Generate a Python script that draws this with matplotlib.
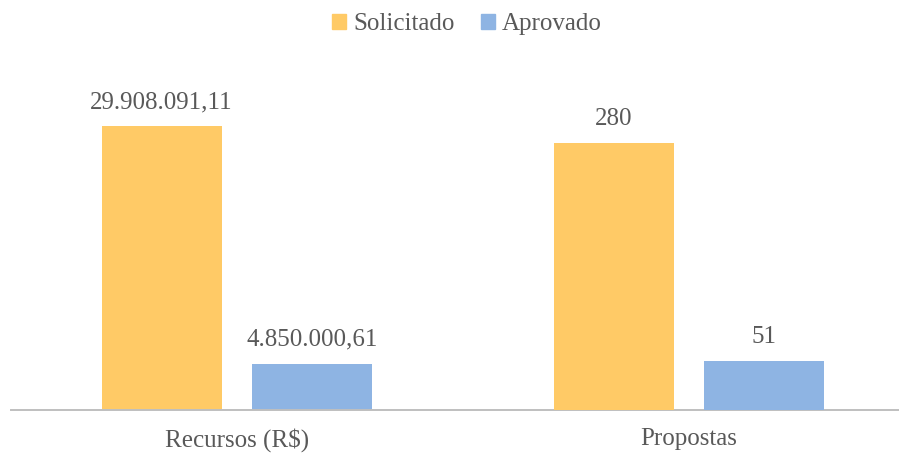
import matplotlib
matplotlib.use("Agg")
import matplotlib.pyplot as plt
from matplotlib.patches import Patch

categories = ["Recursos (R$)", "Propostas"]
series_names = ["Solicitado", "Aprovado"]
solicitado = [29908091.11, 280]
aprovado = [4850000.61, 51]
value_labels_solicitado = ["29.908.091,11", "280"]
value_labels_aprovado = ["4.850.000,61", "51"]

colors = ["#FFCA66", "#8EB4E3"]
text_color = "#595959"
FONT = ["Liberation Serif", "DejaVu Serif"]
plt.rcParams["font.family"] = FONT

W, H = 899, 454
fig = plt.figure(figsize=(W / 100, H / 100), dpi=100)
ax_left_px, ax_bottom_px, ax_w_px, ax_h_px = 11, 410, 904, 350
ax1 = fig.add_axes([ax_left_px / W, (H - ax_bottom_px) / H, ax_w_px / W, ax_h_px / H])
ax2 = ax1.twinx()

bw = 0.2655
off = 0.167
axes_for = [ax1, ax2]
ylims = [36.86e6, 367]
for i, cat in enumerate(categories):
    ax = axes_for[i]
    b1 = ax.bar(i - off, solicitado[i], width=bw, color=colors[0], zorder=2)
    b2 = ax.bar(i + off, aprovado[i], width=bw, color=colors[1], zorder=2)
    for bar, lab in ((b1[0], value_labels_solicitado[i]), (b2[0], value_labels_aprovado[i])):
        ax.annotate(lab, (bar.get_x() + bar.get_width() / 2, bar.get_height()),
                    xytext=(0, 18), textcoords="offset pixels", ha="center", va="baseline",
                    fontsize=18, color=text_color)
    ax.set_ylim(0, ylims[i])

for ax in (ax1, ax2):
    ax.set_xlim(-0.5, 1.5)
    for s in ("left", "right", "top"):
        ax.spines[s].set_visible(False)
    ax.set_yticks([])
ax2.spines["bottom"].set_visible(False)
ax1.spines["bottom"].set_color("#BFBFBF")
ax1.spines["bottom"].set_linewidth(1.4)
ax1.set_xticks(range(len(categories)))
ax1.set_xticklabels(categories, fontsize=18, color=text_color)
ax1.tick_params(axis="x", length=0, pad=13)

handles = [Patch(color=c) for c in colors]
fig.legend(handles, series_names, loc="center", bbox_to_anchor=(467 / W, (H - 24) / H),
           ncol=2, frameon=False, fontsize=18, labelcolor=text_color,
           handlelength=0.56, handleheight=0.56, handletextpad=0.28, columnspacing=1.04,
           borderpad=0, borderaxespad=0)

fig.savefig("out.png", dpi=100)
